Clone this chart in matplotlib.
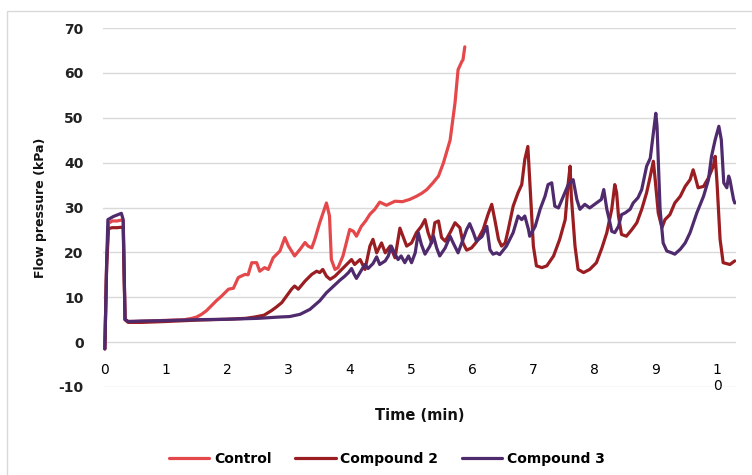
import matplotlib
matplotlib.use("Agg")
import matplotlib.pyplot as plt
from matplotlib.patches import Rectangle

# values (time in min, pressure in kPa)
control_t = [0, 0.03, 0.06, 0.12, 0.2, 0.27, 0.30, 0.33, 0.38, 0.5, 0.7, 0.9, 1.1, 1.3,
             1.42, 1.5, 1.58, 1.66, 1.74, 1.82, 1.91, 2.02, 2.1, 2.18, 2.29, 2.34, 2.40,
             2.48, 2.53, 2.61, 2.67, 2.75, 2.86, 2.94, 3.0, 3.1, 3.19, 3.27, 3.32, 3.38,
             3.43, 3.51, 3.62, 3.67, 3.70, 3.76, 3.81, 3.89, 4.0, 4.06, 4.11, 4.19, 4.26,
             4.33, 4.41, 4.49, 4.6, 4.74, 4.86, 4.98, 5.09, 5.18, 5.26, 5.36, 5.45, 5.53,
             5.64, 5.72, 5.77, 5.83, 5.85, 5.88]
control_p = [-1.5, 18, 26.5, 27, 27, 27.2, 27, 5, 4.6, 4.6, 4.7, 4.8, 4.9, 5.0,
             5.3, 5.6, 6.2, 7.0, 8.1, 9.2, 10.3, 11.8, 12.0, 14.4, 15.1, 15.0, 17.7,
             17.7, 15.8, 16.6, 16.2, 18.8, 20.3, 23.3, 21.4, 19.2, 20.7, 22.2, 21.4, 21.0,
             22.9, 26.6, 31.0, 28.1, 18.4, 16.2, 16.6, 19.2, 25.1, 24.7, 23.6, 25.8, 27.0,
             28.5, 29.6, 31.2, 30.5, 31.4, 31.3, 31.8, 32.5, 33.2, 34.0, 35.5, 37.0, 39.9,
             45.0, 53.3, 60.7, 62.5, 62.9, 65.8]

comp2_t = [0, 0.03, 0.06, 0.12, 0.2, 0.27, 0.30, 0.33, 0.38, 0.6, 1.0, 1.5, 2.0, 2.3,
           2.45, 2.6, 2.72, 2.8, 2.89, 2.97, 3.05, 3.1, 3.16, 3.27, 3.38, 3.46, 3.51,
           3.56, 3.62, 3.68, 3.76, 3.87, 3.98, 4.03, 4.08, 4.17, 4.25, 4.33, 4.38, 4.44,
           4.52, 4.58, 4.66, 4.74, 4.82, 4.87, 4.93, 5.01, 5.09, 5.17, 5.23, 5.28, 5.34,
           5.39, 5.45, 5.50, 5.56, 5.64, 5.72, 5.80, 5.85, 5.91, 5.99, 6.07, 6.18, 6.26,
           6.32, 6.37, 6.43, 6.48, 6.54, 6.59, 6.67, 6.75, 6.81, 6.86, 6.91, 6.94, 7.0,
           7.05, 7.14, 7.22, 7.33, 7.43, 7.52, 7.57, 7.60, 7.62, 7.68, 7.73, 7.82, 7.92,
           8.03, 8.12, 8.20, 8.28, 8.33, 8.36, 8.39, 8.44, 8.52, 8.61, 8.69, 8.77, 8.85,
           8.91, 8.96, 8.99, 9.04, 9.10, 9.15, 9.23, 9.31, 9.40, 9.48, 9.56, 9.61, 9.64,
           9.69, 9.78, 9.86, 9.94, 9.97, 10.0, 10.05, 10.10, 10.21, 10.29]
comp2_p = [-1.5, 17, 25.3, 25.5, 25.5, 25.6, 25.4, 5, 4.4, 4.4, 4.6, 4.9, 5.1, 5.3,
           5.6, 6.0, 7.0, 7.8, 8.8, 10.3, 11.8, 12.5, 11.8, 13.6, 15.1, 15.8, 15.5,
           16.2, 14.7, 14.0, 14.7, 16.2, 17.7, 18.4, 17.3, 18.4, 16.2, 21.4, 22.9, 19.9,
           22.1, 19.9, 21.4, 18.8, 25.4, 23.6, 21.4, 22.1, 24.4, 25.8, 27.3, 24.4, 22.1,
           26.6, 27.0, 23.3, 22.5, 24.4, 26.6, 25.5, 22.1, 20.5, 21.0, 22.3, 25.1, 28.5,
           30.7, 27.3, 22.9, 21.4, 22.1, 25.1, 30.3, 33.3, 35.1, 40.7, 43.6, 36.2, 21.4,
           17.0, 16.6, 17.0, 19.2, 22.9, 27.3, 35.5, 39.2, 32.5, 21.4, 16.2, 15.5, 16.2,
           17.7, 21.0, 24.4, 29.6, 35.1, 33.3, 28.1, 24.0, 23.6, 25.1, 26.6, 29.6, 33.3,
           37.0, 40.3, 36.2, 28.8, 25.5, 27.3, 28.4, 31.0, 32.5, 34.7, 36.2, 38.4, 37.0,
           34.4, 34.7, 36.6, 39.2, 41.4, 35.5, 22.9, 17.7, 17.3, 18.1]

comp3_t = [0, 0.03, 0.05, 0.14, 0.27, 0.30, 0.33, 0.38, 0.6, 1.0, 1.5, 2.0, 2.5, 2.86,
           3.02, 3.19, 3.35, 3.51, 3.62, 3.73, 3.84, 3.92, 3.98, 4.03, 4.07, 4.11, 4.19,
           4.25, 4.30, 4.38, 4.44, 4.49, 4.58, 4.63, 4.68, 4.74, 4.79, 4.84, 4.90, 4.96,
           5.01, 5.07, 5.12, 5.17, 5.23, 5.31, 5.37, 5.42, 5.47, 5.56, 5.64, 5.69, 5.77,
           5.83, 5.91, 5.96, 6.02, 6.07, 6.16, 6.24, 6.29, 6.34, 6.40, 6.45, 6.56, 6.67,
           6.75, 6.81, 6.86, 6.92, 6.94, 7.03, 7.11, 7.19, 7.24, 7.30, 7.35, 7.41, 7.49,
           7.57, 7.65, 7.71, 7.76, 7.84, 7.92, 8.03, 8.11, 8.15, 8.20, 8.24, 8.28, 8.33,
           8.39, 8.44, 8.50, 8.58, 8.63, 8.71, 8.77, 8.85, 8.91, 8.96, 9.0, 9.02, 9.07,
           9.12, 9.18, 9.26, 9.31, 9.40, 9.48, 9.56, 9.67, 9.78, 9.86, 9.91, 9.97, 10.03,
           10.07, 10.11, 10.16, 10.19, 10.21, 10.27, 10.29]
comp3_p = [-1.5, 18, 27.3, 28.0, 28.7, 27.3, 5.1, 4.6, 4.7, 4.8, 5.0, 5.1, 5.3, 5.6,
           5.7, 6.2, 7.3, 9.2, 11.0, 12.4, 13.8, 14.7, 15.5, 16.4, 15.2, 14.2, 16.0,
           17.3, 16.4, 17.5, 19.0, 17.3, 18.1, 19.2, 21.4, 19.6, 18.4, 19.2, 17.7, 19.2,
           17.7, 19.9, 24.4, 21.8, 19.6, 21.4, 23.6, 21.0, 19.2, 21.0, 23.6, 22.1, 19.9,
           22.1, 25.1, 26.4, 24.4, 22.5, 23.5, 25.8, 20.6, 19.6, 19.9, 19.5, 21.4, 24.4,
           28.1, 27.3, 28.1, 25.1, 23.6, 25.8, 29.6, 32.5, 35.1, 35.5, 30.3, 29.9, 32.5,
           35.1, 36.2, 31.8, 29.6, 30.7, 29.9, 31.0, 31.8, 34.0, 29.6, 27.3, 24.7, 24.4,
           25.8, 28.4, 28.8, 29.6, 31.0, 32.2, 34.0, 39.2, 41.0, 46.6, 51.0, 48.1, 29.6,
           22.1, 20.3, 19.9, 19.6, 20.7, 22.1, 24.4, 28.8, 32.5, 36.2, 41.4, 45.1, 48.1,
           45.1, 35.5, 34.4, 37.0, 36.2, 31.8, 31.0]

series_names = ["Control", "Compound 2", "Compound 3"]
series_colors = ["#E5484B", "#9A1D22", "#4F2B6D"]
x_ticks = list(range(0, 11))
x_tick_labels = ["0", "1", "2", "3", "4", "5", "6", "7", "8", "9", "1\n0"]
y_ticks = list(range(-10, 80, 10))

plt.rcParams["font.family"] = "DejaVu Sans"

fig = plt.figure(figsize=(7.52, 4.75), dpi=100)
ax = fig.add_axes([103 / 752, 1 - 387 / 475, 633 / 752, 359 / 475])

# chart area border (offset, cut by image edge)
fig.patches.append(Rectangle((7 / 752, -0.1), 1.2, 1.1 - 11 / 475 + 0.0,
                             transform=fig.transFigure, fill=False,
                             edgecolor="#D9D9D9", linewidth=1.0))

for t, p, name, col in zip([control_t, comp2_t, comp3_t],
                           [control_p, comp2_p, comp3_p],
                           series_names, series_colors):
    ax.plot(t, p, color=col, linewidth=2.3, label=name,
            solid_joinstyle="round", solid_capstyle="round")

ax.set_xlim(-0.03, 10.31)
ax.set_ylim(-10, 70)
ax.set_yticks(y_ticks)
ax.set_xticks(x_ticks)
ax.set_xticklabels(x_tick_labels, fontweight="bold", fontsize=10, color="#222222",
                   linespacing=1.6)
ax.set_yticklabels([str(v) for v in y_ticks], fontweight="bold", fontsize=10,
                   color="#222222")
ax.grid(axis="y", color="#D9D9D9", linewidth=1.0)
ax.set_axisbelow(True)

for s in ["top", "right", "left"]:
    ax.spines[s].set_visible(False)
ax.spines["bottom"].set_position(("data", 0))
ax.spines["bottom"].set_color("none")
ax.tick_params(axis="both", length=0)
ax.tick_params(axis="x", pad=15)
ax.tick_params(axis="y", pad=14)

ax.set_ylabel("Flow pressure (kPa)", fontweight="bold", fontsize=9, color="#111111")
ax.yaxis.set_label_coords(-(103 - 47) / 633, 0.5)
fig.text(420 / 752, 1 - 415 / 475, "Time (min)", ha="center", va="center",
         fontweight="bold", fontsize=10.5, color="#111111")

fig.legend(loc="center", bbox_to_anchor=(387 / 752, 1 - 459 / 475), ncol=3,
           frameon=False, handlelength=2.9, handletextpad=0.35, columnspacing=1.7,
           prop={"weight": "bold", "size": 10})

fig.savefig("out.png", dpi=100, facecolor="white")
